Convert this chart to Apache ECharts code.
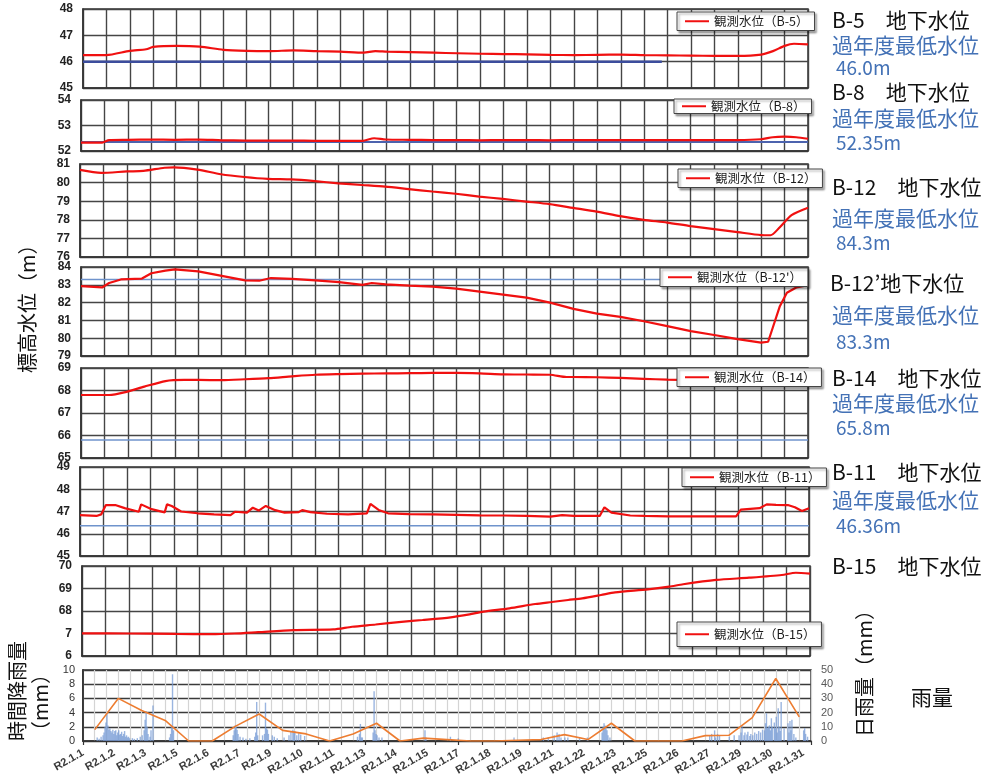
<!DOCTYPE html>
<html>
<head>
<meta charset="utf-8">
<script src="https://cdn.jsdelivr.net/npm/echarts@6/dist/echarts.min.js"></script>
<style>
  html, body { margin: 0; padding: 0; background: #fff; }
  #chart { width: 983px; height: 778px; }
</style>
</head>
<body>
<div id="chart"></div>
<script>
// ---- Groundwater levels, January (R2.1.1 - R2.1.31), x = day offset ----
const legendNames = ['観測水位（B-5）', '観測水位（B-8）', '観測水位（B-12）', "観測水位（B-12'）",
  '観測水位（B-14）', '観測水位（B-11）', '観測水位（B-15）'];
const stationTitles = ['B-5　地下水位', 'B-8　地下水位', 'B-12　地下水位', 'B-12’地下水位',
  'B-14　地下水位', 'B-11　地下水位', 'B-15　地下水位'];
const yMin = [45, 52, 76, 79, 65, 45, 66];
const yMax = [48, 54, 81, 84, 69, 49, 70];
const b15TickLabels = ['6', '7', '68', '69', '70'];

// lowest level of previous years (one per station with a record)
const pastMinLevels = ['46.0', '52.35', '84.3', '83.3', '65.8', '46.36'];
const pastMinEndDay = [24.75, 31, 31, 31, 31, 31];

const levelB5 = [[0,46.25],[1,46.25],[2,46.41],[2.7,46.47],[3,46.56],[4,46.6],[5,46.57],[6,46.45],[7,46.41],
  [8,46.4],[9,46.43],[10,46.4],[11,46.38],[12,46.34],[12.5,46.4],[13,46.38],[14,46.36],[15,46.34],[16,46.32],
  [17,46.3],[18,46.29],[19,46.28],[20,46.26],[21,46.25],[22,46.26],[23,46.27],[24,46.25],[25,46.24],[26,46.23],
  [27,46.22],[28,46.22],[29,46.27],[29.5,46.4],[30,46.6],[30.4,46.68],[31,46.66]];
const levelB8 = [[0,52.33],[0.9,52.33],[1.2,52.43],[2,52.44],[3,52.45],[4,52.44],[5,52.45],[6,52.42],[7,52.41],
  [8,52.41],[9,52.41],[10,52.4],[11,52.4],[12,52.4],[12.5,52.5],[13,52.45],[14,52.44],[15,52.43],[16,52.43],
  [17,52.42],[18,52.43],[19,52.43],[20,52.42],[21,52.43],[22,52.43],[23,52.43],[24,52.43],[25,52.43],[26,52.43],
  [27,52.43],[28,52.43],[29,52.46],[29.5,52.54],[30,52.56],[30.5,52.54],[31,52.48]];
const levelB12 = [[0,80.68],[0.9,80.52],[2,80.6],[2.7,80.63],[3.6,80.8],[4,80.82],[5,80.7],[6,80.45],[7,80.3],
  [8,80.2],[9,80.17],[10,80.08],[11,79.96],[12,79.87],[13,79.78],[14,79.65],[15,79.52],[16,79.4],[17,79.25],
  [18,79.12],[19,78.98],[20,78.84],[21,78.64],[22,78.44],[23,78.2],[24,78.0],[25,77.85],[26,77.66],[27,77.5],
  [28,77.34],[29,77.18],[29.4,77.17],[29.8,77.6],[30.3,78.25],[31,78.65]];
const levelB12p = [[0,82.93],[0.9,82.85],[1.2,83.1],[1.7,83.3],[2.6,83.35],[3,83.65],[3.6,83.8],[4,83.87],[5,83.75],
  [6,83.5],[7,83.25],[7.6,83.23],[8.1,83.38],[9,83.33],[10,83.25],[11,83.15],[12,83.0],[12.4,83.1],[13,83.02],
  [14,82.95],[15,82.9],[16,82.78],[17,82.62],[18,82.45],[19,82.28],[20,82.0],[21,81.65],[22,81.38],[23,81.2],
  [24,80.95],[25,80.68],[26,80.4],[27,80.18],[28,79.95],[29,79.75],[29.3,79.8],[29.5,80.6],[29.8,81.8],
  [30.1,82.55],[30.5,82.85],[31,82.98]];
const levelB14 = [[0,67.8],[1.2,67.8],[1.9,67.93],[2.7,68.17],[3.6,68.42],[4.4,68.47],[5,68.47],[6,68.46],[7,68.5],
  [8,68.55],[9,68.63],[10,68.7],[11,68.73],[12,68.75],[13,68.76],[14,68.77],[15,68.78],[16,68.78],[17,68.76],
  [18,68.72],[19,68.71],[20,68.7],[20.7,68.6],[21,68.6],[22,68.59],[23,68.56],[24,68.52],[25,68.48],[26,68.46],
  [27,68.45],[28,68.45],[29,68.45],[30,68.45],[31,68.45]];
const levelB11 = [[0,46.84],[0.7,46.8],[0.9,46.87],[1.1,47.29],[1.5,47.29],[1.9,47.15],[2.5,46.99],[2.6,47.32],
  [3,47.12],[3.6,46.96],[3.7,47.32],[3.9,47.25],[4.3,47.0],[5,46.92],[5.7,46.87],[6.4,46.84],[6.6,46.99],
  [7.1,46.95],[7.35,47.17],[7.6,47.04],[7.9,47.25],[8.3,47.06],[8.7,46.95],[9.3,46.97],[9.45,47.06],[9.8,46.97],
  [10.5,46.9],[11.4,46.87],[12.2,46.92],[12.35,47.34],[12.7,47.07],[13.1,46.92],[14,46.88],[15,46.87],[16,46.85],
  [17,46.83],[18,46.82],[19,46.8],[20,46.77],[20.5,46.84],[21,46.8],[22.1,46.8],[22.3,47.19],[22.6,46.95],
  [23.4,46.82],[24,46.8],[25,46.78],[26,46.78],[27,46.78],[27.9,46.78],[28.1,47.08],[28.5,47.12],[28.9,47.15],
  [29.2,47.32],[29.6,47.3],[30.1,47.29],[30.4,47.19],[30.7,47.02],[31,47.15]];
const levelB15 = [[0,67.01],[2,67.0],[4,66.98],[5.5,66.97],[6.5,67.0],[7.5,67.06],[9,67.15],[10.7,67.18],[11.5,67.3],
  [12.5,67.4],[13.6,67.52],[14.5,67.6],[15.7,67.72],[16.5,67.85],[17.1,67.97],[18.2,68.12],[19.3,68.31],[20,68.4],
  [20.7,68.49],[21.3,68.56],[22.1,68.71],[22.7,68.83],[24.1,68.96],[25,69.08],[25.6,69.19],[27,69.38],[28.4,69.48],
  [29.8,69.6],[30.4,69.7],[31,69.66]];
const levels = [levelB5, levelB8, levelB12, levelB12p, levelB14, levelB11, levelB15];

// ---- Rainfall ----
const rainTickLabels = ['R2.1.1','R2.1.2','R2.1.3','R2.1.5','R2.1.6','R2.1.7','R2.1.9','R2.1.10','R2.1.11',
  'R2.1.13','R2.1.14','R2.1.15','R2.1.17','R2.1.18','R2.1.19','R2.1.21','R2.1.22','R2.1.23','R2.1.25',
  'R2.1.26','R2.1.27','R2.1.29','R2.1.30','R2.1.31'];
// daily rainfall (mm), one value per day
const rainDaily = [8, 30, 21.5, 14.5, 0, 0, 10.5, 19, 7.5, 5, 0, 5, 12.5, 0, 2, 1, 0, 0, 0.5, 1, 4.5, 1, 12.5,
  0, 0, 0, 3.8, 4, 16.5, 44, 17];
// hourly rainfall (mm): [hour from R2.1.1 0:00, amount]; hours without rain omitted
const rainHourly = [
  [14,0.5],[16,0.3],[18,0.6],[20,0.8],[21,1.2],[22,2.0],[23,2.6],
  [24,3.9],[25,2.2],[26,1.6],[27,1.8],[28,1.4],[29,1.2],[30,1.6],[31,1.0],[32,1.4],[33,1.5],[34,0.8],[35,1.2],
  [36,1.5],[37,0.9],[38,1.0],[39,1.3],[40,0.7],[41,1.0],[42,1.4],[43,0.6],[44,0.8],[45,0.5],[46,0.6],[47,0.4],
  [50,0.4],[52,0.3],[55,0.4],[58,0.6],[60,0.8],[62,1.5],[63,3.0],[64,4.2],[65,2.0],[66,1.0],[68,0.6],[69,1.5],[71,5.0],
  [88,0.5],[89,1.0],[90,2.0],[91,9.4],[92,1.5],
  [153,0.8],[154,1.5],[155,2.2],[156,2.0],[157,1.6],[158,1.0],[160,0.6],[163,0.5],[166,0.3],
  [170,0.4],[175,0.6],[176,1.2],[177,5.5],[178,0.8],[183,0.8],[185,1.0],[186,5.4],[187,1.8],[188,1.6],[189,1.0],
  [193,0.8],[195,0.6],[198,0.4],[205,0.5],[210,0.8],[212,1.4],[214,1.6],[215,1.2],
  [216,1.4],[218,0.8],[220,1.2],[222,0.9],[226,0.7],
  [280,0.6],[282,1.0],[283,2.4],[284,0.5],[285,0.5],
  [296,1.2],[297,7.0],[298,1.5],[299,1.0],[300,0.8],[302,0.5],[305,0.5],
  [349,1.5],[350,0.5],[375,0.6],[383,0.4],
  [440,0.5],[470,0.5],[475,0.5],
  [481,0.8],[484,1.2],[486,1.0],[488,0.5],[492,0.5],[495,0.5],[507,0.5],[515,0.5],
  [530,1.2],[531,2.0],[532,2.5],[533,2.2],[534,1.8],[535,1.5],[536,0.8],[538,0.5],
  [640,0.8],[642,1.0],[645,1.5],[646,0.5],
  [648,1.0],[650,0.8],[660,0.6],[665,0.8],[670,0.8],
  [672,1.2],[673,2.2],[675,0.8],[676,1.2],[678,0.9],[679,1.3],[681,0.7],[682,1.0],[684,0.8],[686,1.2],[688,1.0],
  [690,1.4],[692,1.2],[694,1.6],
  [696,1.5],[697,2.5],[698,3.9],[699,1.8],[700,2.0],[701,2.2],[702,1.5],[703,3.2],[704,2.0],[706,2.6],[707,1.8],
  [708,3.4],[709,1.2],[710,4.6],[711,2.0],[712,1.4],[713,5.5],[716,1.8],
  [720,2.5],[721,1.2],[722,2.8],[723,1.5],[724,3.0],[726,1.0],[728,0.5],[736,1.5],[737,1.8],[738,1.0],[740,0.6]
];

// ---- layout ----
const panelGrids = [
  { left: 83, top: 9,   width: 725, height: 79 },
  { left: 81, top: 100, width: 727, height: 51 },
  { left: 80, top: 164, width: 728, height: 93 },
  { left: 81, top: 267, width: 727, height: 89 },
  { left: 81, top: 368, width: 727, height: 90 },
  { left: 80, top: 467, width: 729, height: 89 },
  { left: 82, top: 566, width: 728, height: 90 }
];
const rainGrid = { left: 83, top: 670, width: 728, height: 71 };
const legendPos = [[677, 12], [674, 99], [678, 169], [660, 268], [677, 368], [682, 468], [677, 622]];
const minLineStyle = [
  { color: '#3c4d9d', width: 2.5 }, { color: '#4c63ae', width: 2 }, { color: '#6f93cc', width: 1.5 },
  { color: '#6f93cc', width: 1.5 }, { color: '#6f93cc', width: 1.5 }, { color: '#6f93cc', width: 1.5 }
];
const titleY = [20, 92, 187, 283, 378, 472, 566];
const minCaptionY = [45, 118, 218, 315, 403, 500];
const minValueY = [68, 143, 243, 342, 428, 526];

const GRID_LINE = { color: '#454545', width: 1.4 };
const JP = '"Noto Sans CJK JP", sans-serif';
const RED = '#f01010';
const BLUE_TEXT = '#4472b6';

const gridBase = { show: true, borderColor: '#333', borderWidth: 1.5, backgroundColor: '#fff' };
const grids = panelGrids.map(g => Object.assign({}, gridBase, g));
grids.push(Object.assign({}, gridBase, rainGrid));

const xAxes = panelGrids.map((g, i) => ({
  type: 'value', gridIndex: i, min: 0, max: 31, interval: 1,
  axisLabel: { show: false }, axisTick: { show: false },
  axisLine: { show: true, lineStyle: { color: '#333', width: 1.5 } },
  splitLine: { show: true, lineStyle: GRID_LINE }
}));
// rain: date labels every 32 hours
xAxes.push({
  type: 'value', gridIndex: 7, min: 0, max: 744, interval: 32,
  axisTick: { show: false }, splitLine: { show: false },
  axisLine: { show: true, lineStyle: { color: '#333', width: 1.5 } },
  axisLabel: {
    rotate: 30, margin: 11, fontSize: 11, fontWeight: 'bold', fontFamily: 'Liberation Sans', color: '#3a3a3a',
    formatter: v => rainTickLabels[v / 32] || ''
  }
});
// rain: daily ticks and 12-hour light grid
xAxes.push({
  type: 'value', gridIndex: 7, min: 0, max: 744, interval: 24, position: 'bottom',
  axisLabel: { show: false },
  axisTick: { show: true, length: 4, lineStyle: { color: '#333', width: 1.2 } },
  axisLine: { show: false },
  splitLine: { show: true, lineStyle: { color: '#d4d4d4', width: 1.2 } },
  minorTick: { show: false, splitNumber: 2 },
  minorSplitLine: { show: true, lineStyle: { color: '#d4d4d4', width: 1.2 } }
});

const yAxes = panelGrids.map((g, i) => ({
  type: 'value', gridIndex: i, min: yMin[i], max: yMax[i], interval: 1,
  axisLine: { show: true, lineStyle: { color: '#333', width: 1.5 } },
  axisTick: { show: false },
  splitLine: { show: true, lineStyle: GRID_LINE },
  axisLabel: {
    margin: 10, fontSize: 12, fontWeight: 'bold', fontFamily: 'Liberation Sans', color: '#222',
    formatter: i === 6 ? (v => b15TickLabels[v - yMin[6]]) : (v => String(v))
  }
}));
yAxes.push({
  type: 'value', gridIndex: 7, min: 0, max: 10, interval: 2,
  axisLine: { show: true, lineStyle: { color: '#333', width: 1.5 } },
  axisTick: { show: false },
  splitLine: { show: true, lineStyle: { color: '#3a3a3a', width: 1.4 } },
  axisLabel: { margin: 8, fontSize: 11, fontFamily: 'Liberation Sans', color: '#333' }
});
yAxes.push({
  type: 'value', gridIndex: 7, min: 0, max: 50, interval: 10, position: 'right',
  axisLine: { show: true, lineStyle: { color: '#333', width: 1.5 } },
  axisTick: { show: false }, splitLine: { show: false },
  axisLabel: { margin: 10, fontSize: 11, fontFamily: 'Liberation Sans', color: '#595959' }
});

const series = [];
levels.forEach((data, i) => {
  if (i < pastMinLevels.length) {
    const v = Number(pastMinLevels[i]);
    series.push({
      name: 'min' + i, type: 'line', xAxisIndex: i, yAxisIndex: i, showSymbol: false, silent: true,
      data: [[0, v], [pastMinEndDay[i], v]], lineStyle: minLineStyle[i], itemStyle: { color: minLineStyle[i].color },
      z: 2
    });
  }
  series.push({
    name: legendNames[i], type: 'line', xAxisIndex: i, yAxisIndex: i, showSymbol: false,
    smooth: (i === 5 || i === 3) ? false : 0.25,
    data: data, lineStyle: { color: RED, width: 2.2 }, itemStyle: { color: RED }, z: 3
  });
});
series.push({
  name: '時間降雨量', type: 'bar', xAxisIndex: 7, yAxisIndex: 7, barWidth: 1.4,
  data: rainHourly.map(([h, v]) => [h + 0.5, v]),
  itemStyle: { color: 'rgba(120,156,214,0.75)' }, z: 2
});
series.push({
  name: '日雨量', type: 'line', xAxisIndex: 7, yAxisIndex: 8, showSymbol: false,
  data: rainDaily.map((v, d) => [(d + 0.5) * 24, v]),
  lineStyle: { color: '#ed7d31', width: 1.6 }, itemStyle: { color: '#ed7d31' }, z: 3
});

const legends = legendNames.map((n, i) => ({
  data: [n], left: legendPos[i][0], top: legendPos[i][1], orient: 'horizontal', selectedMode: false,
  z: 10,
  icon: 'rect', itemWidth: 24, itemHeight: 2, itemGap: 4,
  backgroundColor: '#fff', borderColor: '#444', borderWidth: 1, borderRadius: 0,
  padding: i === 1 ? [1, 6, 1, 8] : (i === 6 ? [6, 6, 6, 8] : [3, 6, 3, 8]),
  shadowColor: 'rgba(0,0,0,0.35)', shadowOffsetX: 2, shadowOffsetY: 2, shadowBlur: 2,
  textStyle: { fontSize: 12.5, color: '#1a1a1a', fontFamily: JP }
}));

function txt(text, x, y, size, color, extra) {
  return Object.assign({
    type: 'text', x: x, y: y, silent: true,
    style: {
      text: text, fontSize: size, fontFamily: JP, fill: color,
      align: 'left', verticalAlign: 'middle', textAlign: 'left', textVerticalAlign: 'middle'
    }
  }, extra || {});
}
const graphics = [];
stationTitles.forEach((t, i) => graphics.push(txt(t, i === 3 ? 830 : 832, titleY[i], 21, '#111')));
pastMinLevels.forEach((v, i) => {
  graphics.push(txt('過年度最低水位', 832, minCaptionY[i], 21, BLUE_TEXT));
  graphics.push(txt(v + 'm', 836, minValueY[i], 19, BLUE_TEXT));
});
graphics.push(txt('雨量', 911, 697, 21, '#111'));
graphics.push(txt('標高水位（m）', 27, 373, 20, '#111', { rotation: Math.PI / 2 }));
graphics.push(txt('時間降雨量', 17, 741, 20, '#111', { rotation: Math.PI / 2 }));
graphics.push(txt('（mm）', 40, 741, 20, '#111', { rotation: Math.PI / 2 }));
graphics.push(txt('日雨量（mm）', 864, 737, 20, '#111', { rotation: Math.PI / 2 }));

const chart = echarts.init(document.getElementById('chart'), null, { renderer: 'canvas' });
chart.setOption({
  animation: false,
  backgroundColor: '#fff',
  grid: grids,
  xAxis: xAxes,
  yAxis: yAxes,
  legend: legends,
  series: series,
  graphic: graphics
});
</script>
</body>
</html>
